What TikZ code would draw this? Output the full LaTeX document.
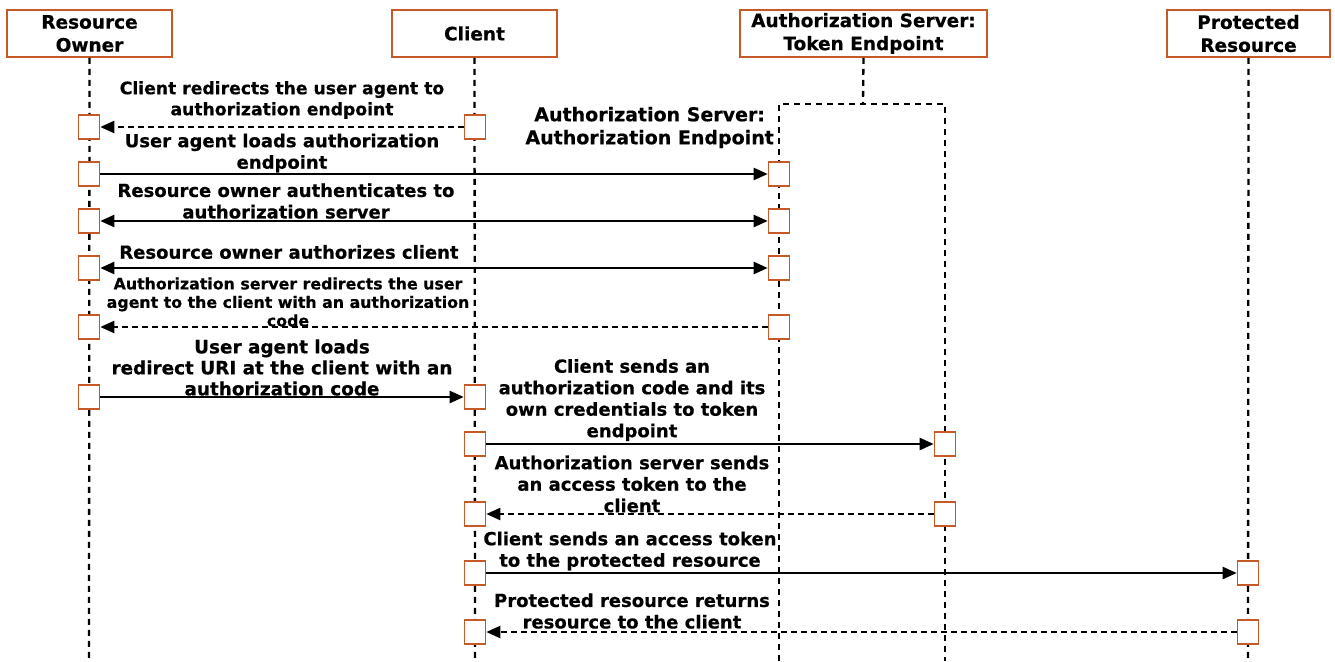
\documentclass[tikz,border=0pt]{standalone}
\usepackage{fontspec}
\setmainfont{DejaVu Sans}[BoldFeatures={FakeBold=0.5}]
\usetikzlibrary{arrows.meta}
\definecolor{boxorange}{RGB}{197,90,40}
\begin{document}
\begin{tikzpicture}[x=1pt,y=-1pt,
  header/.style={draw=boxorange, line width=1.6pt, fill=white, minimum width=#1,
    minimum height=47pt, align=center, inner sep=0pt,
    font=\bfseries\fontsize{18.5}{23}\selectfont},
  act/.style={draw=boxorange, line width=1.6pt, fill=white,
    minimum width=21pt, minimum height=24pt, inner sep=0pt},
  lifeline/.style={line width=2.3pt, dash pattern=on 6pt off 5pt},
  tip/.style={-{Triangle[length=14pt,width=12pt]}},
  msg/.style={line width=2.3pt, tip},
  reply/.style={line width=2.3pt, tip, dash pattern=on 6pt off 4pt},
  both/.style={line width=2.3pt, {Triangle[length=14pt,width=12pt]}-{Triangle[length=14pt,width=12pt]}},
  lbl/.style={align=center, inner sep=0pt, font=\bfseries\fontsize{18}{21.5}\selectfont},
  small/.style={align=center, inner sep=0pt, font=\bfseries\fontsize{15.8}{18.5}\selectfont}]

\useasboundingbox[fill=white] (0,0) rectangle (1335,661);

% participants
\node[header=165pt] (ro) at (89.5,33.5) {Resource\\Owner};
\node[header=165pt] (cl) at (474.5,33.5) {Client};
\node[header=247pt] (tk) at (863.5,33.5) {Authorization Server:\\Token Endpoint};
\node[header=163pt] (pr) at (1248.5,33.5) {Protected\\Resource};

% lifeline ends and the authorization endpoint frame
\coordinate (roEnd) at (89,661);
\coordinate (clEnd) at (475,661);
\coordinate (prEnd) at (1248,661);
\coordinate (frameTop) at (863,104);
\coordinate (aeTop) at (779,104);
\coordinate (tkTop) at (945,104);
\coordinate (aeEnd) at (779,661);
\coordinate (tkEnd) at (945,661);

\draw[lifeline] (ro.south) -- (roEnd);
\draw[lifeline] (cl.south) -- (clEnd);
\draw[lifeline] (pr.south) -- (prEnd);
\draw[lifeline] (tk.south) -- (frameTop);
\draw[lifeline] (aeEnd) -- (aeTop) -- (tkTop) -- (tkEnd);

\node[align=center, inner sep=0pt, font=\bfseries\fontsize{19}{23}\selectfont, anchor=east]
  (aelbl) at (774,127.5) {Authorization Server:\\Authorization Endpoint};

% activations
\node[act] (ro1) at (89,127) {};
\node[act] (cl1) at (475,127) {};
\node[act] (ro2) at (89,174) {};
\node[act] (ae2) at (779,174) {};
\node[act] (ro3) at (89,221) {};
\node[act] (ae3) at (779,221) {};
\node[act] (ro4) at (89,268) {};
\node[act] (ae4) at (779,268) {};
\node[act] (ro5) at (89,327) {};
\node[act] (ae5) at (779,327) {};
\node[act] (ro6) at (89,397) {};
\node[act] (cl6) at (475,397) {};
\node[act] (cl7) at (475,444) {};
\node[act] (tk7) at (945,444) {};
\node[act] (cl8) at (475,514) {};
\node[act] (tk8) at (945,514) {};
\node[act] (cl9) at (475,573) {};
\node[act] (pr9) at (1248,573) {};
\node[act] (cl10) at (475,632) {};
\node[act] (pr10) at (1248,632) {};

% messages
\draw[reply] (cl1.west) -- (ro1.east);
\draw[msg] (ro2.east) -- (ae2.west);
\draw[both] (ro3.east) -- (ae3.west);
\draw[both] (ro4.east) -- (ae4.west);
\draw[reply] (ae5.west) -- (ro5.east);
\draw[msg] (ro6.east) -- (cl6.west);
\draw[msg] (cl7.east) -- (tk7.west);
\draw[reply] (tk8.west) -- (cl8.east);
\draw[msg] (cl9.east) -- (pr9.west);
\draw[reply] (pr10.west) -- (cl10.east);

% message labels
\node[lbl, font=\bfseries\fontsize{17.2}{21}\selectfont] (m1) at (282,100) {Client redirects the user agent to\\authorization endpoint};
\node[lbl] (m2) at (282,153) {User agent loads authorization\\endpoint};
\node[lbl] (m3) at (286,201) {Resource owner authenticates to\\authorization server};
\node[lbl] (m4) at (289,252) {Resource owner authorizes client};
\node[small] (m5) at (288,302) {Authorization server redirects the user\\agent to the client with an authorization\\code};
\node[lbl, font=\bfseries\fontsize{18.4}{21}\selectfont] (m6) at (282,367.5) {User agent loads\\redirect URI at the client with an\\authorization code};
\node[lbl] (m7) at (632,400) {Client sends an\\authorization code and its\\own credentials to token\\endpoint};
\node[lbl] (m8) at (632,484) {Authorization server sends\\an access token to the\\client};
\node[lbl] (m9) at (630,551) {Client sends an access token\\to the protected resource};
\node[lbl] (m10) at (632,611) {Protected resource returns\\resource to the client};
\end{tikzpicture}
\end{document}
